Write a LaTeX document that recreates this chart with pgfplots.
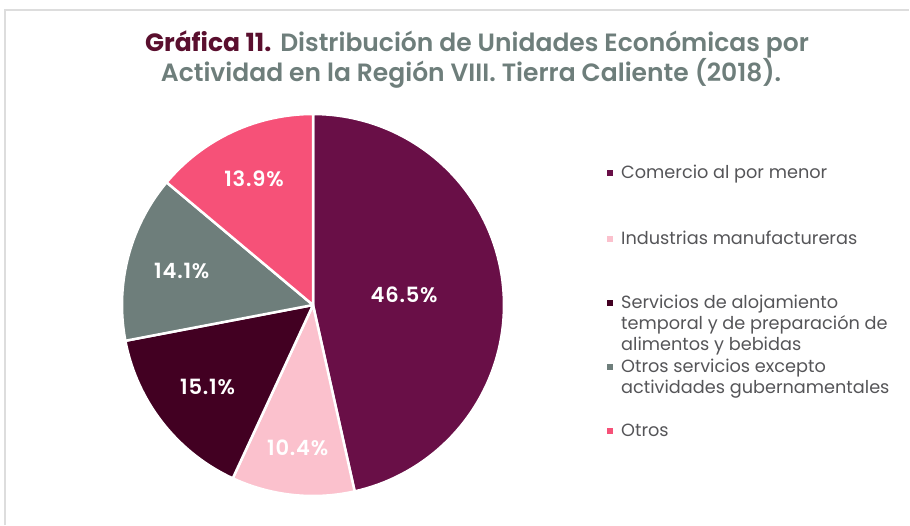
\documentclass[border=0pt]{standalone}
\usepackage{pgfplots}
\pgfplotsset{compat=1.18}
\usepackage{pgfplotstable}
\usepackage{fontspec}
\setmainfont{Poppins}
\newfontfamily\sbfont{Poppins SemiBold}
\newfontfamily\mdfont{Poppins Medium}
\definecolor{cA}{HTML}{690F47}
\definecolor{cB}{HTML}{FBC1CD}
\definecolor{cC}{HTML}{420022}
\definecolor{cD}{HTML}{6E7E7B}
\definecolor{cE}{HTML}{F65178}
\definecolor{titlered}{HTML}{5A0F2E}
\definecolor{titlegrey}{HTML}{6E7E7B}
\definecolor{legtext}{HTML}{555558}
\definecolor{framec}{HTML}{DDDDDD}

\pgfplotstableread{
id pct
A 46.5
B 10.4
C 15.1
D 14.1
E 13.9
}\piedata

\begin{document}
\begin{tikzpicture}[x=1pt,y=1pt, lab/.style={text=white, font=\sbfont\addfontfeatures{LetterSpace=4}\fontsize{21}{24}\selectfont}]
\pgfplotstablegetelem{0}{pct}\of\piedata \let\pA\pgfplotsretval
\pgfplotstablegetelem{1}{pct}\of\piedata \let\pB\pgfplotsretval
\pgfplotstablegetelem{2}{pct}\of\piedata \let\pC\pgfplotsretval
\pgfplotstablegetelem{3}{pct}\of\piedata \let\pD\pgfplotsretval
\pgfplotstablegetelem{4}{pct}\of\piedata \let\pE\pgfplotsretval
\pgfmathsetmacro\sA{90}
\pgfmathsetmacro\eA{\sA-3.6*\pA}
\pgfmathsetmacro\eB{\eA-3.6*\pB}
\pgfmathsetmacro\eC{\eB-3.6*\pC}
\pgfmathsetmacro\eD{\eC-3.6*\pD}
\pgfmathsetmacro\eE{\eD-3.6*\pE}
\pgfmathsetmacro\mA{(\sA+\eA)/2}
\pgfmathsetmacro\mB{(\eA+\eB)/2}
\pgfmathsetmacro\mC{(\eB+\eC)/2}
\pgfmathsetmacro\mD{(\eC+\eD)/2}
\pgfmathsetmacro\mE{(\eD+\eE)/2}
\path (0,0) rectangle (910,525);
\draw[framec, line width=1.5pt] (5,0) -- (5,515) -- (909,515);
\node[anchor=base, inner sep=0] at (477,473) {\fontsize{25}{30}\selectfont{\bfseries\color{titlered}Gráfica 11.} {\sbfont\color{titlegrey}Distribución de Unidades Económicas por}};
\node[anchor=base, inner sep=0] at (471,443) {\fontsize{25}{30}\selectfont\sbfont\color{titlegrey}Actividad en la Región VIII. Tierra Caliente (2018).};
\begin{axis}[at={(313pt,220pt)}, anchor=center, width=382pt, height=382pt, scale only axis,
  xmin=-1, xmax=1, ymin=-1, ymax=1, hide axis, clip=false,
  every axis plot/.append style={draw=white, line width=2.5pt, line join=round, samples=90, variable=\t}]
\addplot[fill=cA, domain=\eA:\sA] ({cos(\t)},{sin(\t)}) -- (axis cs:0,0) -- cycle;
\addplot[fill=cB, domain=\eB:\eA] ({cos(\t)},{sin(\t)}) -- (axis cs:0,0) -- cycle;
\addplot[fill=cC, domain=\eC:\eB] ({cos(\t)},{sin(\t)}) -- (axis cs:0,0) -- cycle;
\addplot[fill=cD, domain=\eD:\eC] ({cos(\t)},{sin(\t)}) -- (axis cs:0,0) -- cycle;
\addplot[fill=cE, domain=\eE:\eD] ({cos(\t)},{sin(\t)}) -- (axis cs:0,0) -- cycle;
\node[lab] at (axis cs:{0.48*cos(\mA)},{0.48*sin(\mA)}) {\pA\%};
\node[lab] at (axis cs:{0.75*cos(\mB)},{0.75*sin(\mB)}) {\pB\%};
\node[lab] at (axis cs:{0.70*cos(\mC)},{0.70*sin(\mC)}) {\pC\%};
\node[lab] at (axis cs:{0.71*cos(\mD)},{0.71*sin(\mD)}) {\pD\%};
\node[lab] at (axis cs:{0.73*cos(\mE)},{0.73*sin(\mE)}) {\pE\%};
\end{axis}
\begin{scope}[every node/.style={anchor=base west, inner sep=0, text=legtext, font=\fontsize{17.7}{21}\selectfont}]
\fill[cA] (607,349) rectangle ++(6,6);
\node at (621,346) {Comercio al por menor};
\fill[cB] (607,283) rectangle ++(6,6);
\node at (621,280.5) {Industrias manufactureras};
\fill[cC] (607,219) rectangle ++(6,6);
\node at (621,216.5) {\parbox[t]{285pt}{Servicios de alojamiento\\temporal y de preparación de\\alimentos y bebidas}};
\fill[cD] (607,155) rectangle ++(6,6);
\node at (621,152.5) {\parbox[t]{285pt}{Otros servicios excepto\\actividades gubernamentales}};
\fill[cE] (607,91) rectangle ++(6,6);
\node at (621,88.5) {Otros};
\end{scope}
\end{tikzpicture}
\end{document}
